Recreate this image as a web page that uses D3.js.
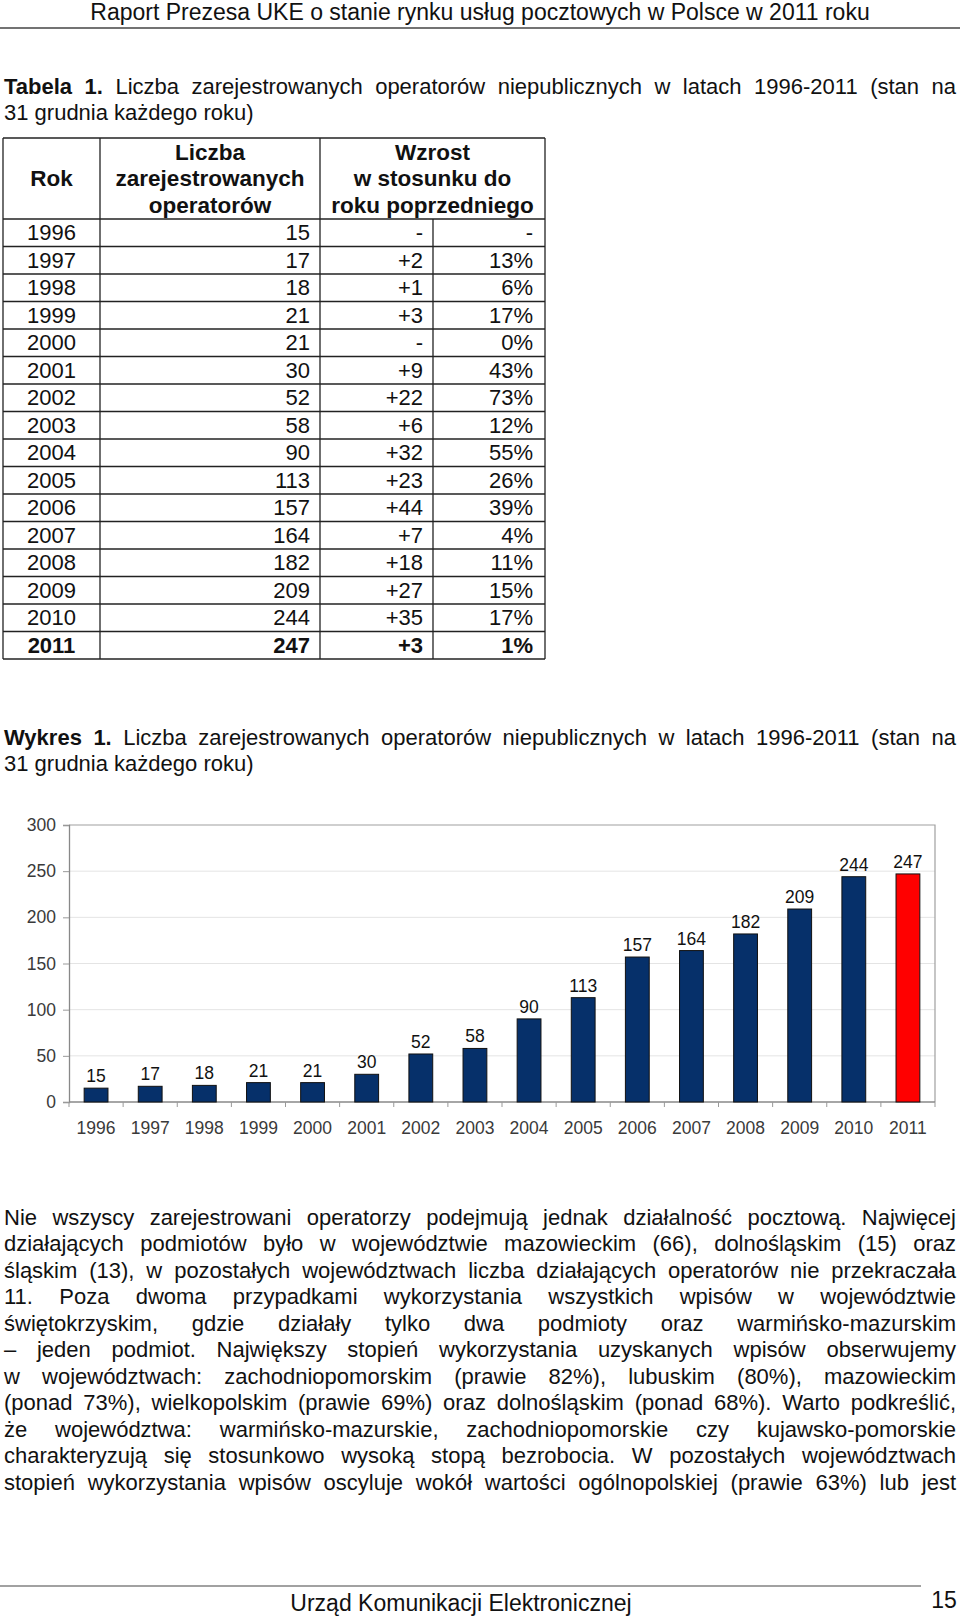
<!DOCTYPE html>
<html>
<head>
<meta charset="utf-8">
<script src="https://cdn.jsdelivr.net/npm/d3@7"></script>
<style>
  body { margin: 0; background: #fff; }
  svg text { font-family: "Liberation Sans", Arial, sans-serif; }
</style>
</head>
<body>
<div id="page"></div>
<script>
// data
const years = ["1996","1997","1998","1999","2000","2001","2002","2003","2004","2005","2006","2007","2008","2009","2010","2011"];
const operators = [15, 17, 18, 21, 21, 30, 52, 58, 90, 113, 157, 164, 182, 209, 244, 247];
const growthAbs = ["-","+2","+1","+3","-","+9","+22","+6","+32","+23","+44","+7","+18","+27","+35","+3"];
const growthPct = ["-","13%","6%","17%","0%","43%","73%","12%","55%","26%","39%","4%","11%","15%","17%","1%"];
const yTicks = [0, 50, 100, 150, 200, 250, 300];
const highlightYear = "2011";

const headerText = "Raport Prezesa UKE o stanie rynku usług pocztowych w Polsce w 2011 roku";
const footerText = "Urząd Komunikacji Elektronicznej";
const pageNo = "15";
const captionRest = "Liczba zarejestrowanych operatorów niepublicznych w latach 1996-2011 (stan na";
const captionLine2 = "31 grudnia każdego roku)";
const paragraph = [
  "Nie wszyscy zarejestrowani operatorzy podejmują jednak działalność pocztową. Najwięcej",
  "działających podmiotów było w województwie mazowieckim (66), dolnośląskim (15) oraz",
  "śląskim (13), w pozostałych województwach liczba działających operatorów nie przekraczała",
  "11. Poza dwoma przypadkami wykorzystania wszystkich wpisów w województwie",
  "świętokrzyskim, gdzie działały tylko dwa podmioty oraz warmińsko-mazurskim",
  "– jeden podmiot. Największy stopień wykorzystania uzyskanych wpisów obserwujemy",
  "w województwach: zachodniopomorskim (prawie 82%), lubuskim (80%), mazowieckim",
  "(ponad 73%), wielkopolskim (prawie 69%) oraz dolnośląskim (ponad 68%). Warto podkreślić,",
  "że województwa: warmińsko-mazurskie, zachodniopomorskie czy kujawsko-pomorskie",
  "charakteryzują się stosunkowo wysoką stopą bezrobocia. W pozostałych województwach",
  "stopień wykorzystania wpisów oscyluje wokół wartości ogólnopolskiej (prawie 63%) lub jest"
];

const W = 960, H = 1617;
const svg = d3.select("#page").append("svg")
  .attr("width", W).attr("height", H);

// stretch / squeeze a line so it fills [x0, x1] by word spacing
function justify(sel, x0, x1) {
  const natural = sel.node().getComputedTextLength();
  const spaces = (sel.text().match(/ /g) || []).length;
  if (spaces > 0) sel.attr("word-spacing", (x1 - x0 - natural) / spaces);
}

// page header / footer
svg.append("text").attr("x", 480).attr("y", 12).attr("dy", "0.35em")
  .attr("text-anchor", "middle").attr("font-size", 23).attr("fill", "#111")
  .text(headerText);
svg.append("line").attr("x1", 0).attr("x2", W).attr("y1", 28).attr("y2", 28)
  .attr("stroke", "#444").attr("stroke-width", 1.5);

svg.append("line").attr("x1", 0).attr("x2", 921).attr("y1", 1586).attr("y2", 1586)
  .attr("stroke", "#444").attr("stroke-width", 1.2);
svg.append("text").attr("x", 461).attr("y", 1603).attr("dy", "0.35em")
  .attr("text-anchor", "middle").attr("font-size", 23).attr("fill", "#111")
  .text(footerText);
svg.append("text").attr("x", 944).attr("y", 1600).attr("dy", "0.35em")
  .attr("text-anchor", "middle").attr("font-size", 23).attr("fill", "#111")
  .text(pageNo);

// captions
function caption(label, y) {
  const t = svg.append("text").attr("x", 4).attr("y", y).attr("dy", "0.35em")
    .attr("font-size", 22).attr("fill", "#111");
  t.append("tspan").attr("font-weight", "bold").text(label + " ");
  t.append("tspan").text(captionRest);
  justify(t, 4, 956);
  svg.append("text").attr("x", 4).attr("y", y + 26.5).attr("dy", "0.35em")
    .attr("font-size", 22).attr("fill", "#111").text(captionLine2);
}
caption("Tabela 1.", 86);
caption("Wykres 1.", 737);

// table
const colX = [3, 100, 320, 433, 545];
const tTop = 138, tHead = 219, rowH = 27.5;
const tBottom = tHead + rowH * years.length;
const table = svg.append("g").attr("font-size", 22).attr("fill", "#111");
const lineStyle = s => s.attr("stroke", "#222").attr("stroke-width", 1.3);

// horizontal rules
table.selectAll("line.h")
  .data(d3.range(years.length + 1).map(i => tHead + i * rowH).concat([tTop]))
  .join("line").attr("class", "h")
  .attr("x1", colX[0]).attr("x2", colX[4]).attr("y1", d => d).attr("y2", d => d)
  .call(lineStyle);
// vertical rules
[0, 1, 2, 4].forEach(i => {
  table.append("line").attr("x1", colX[i]).attr("x2", colX[i])
    .attr("y1", tTop).attr("y2", tBottom).call(lineStyle);
});
table.append("line").attr("x1", colX[3]).attr("x2", colX[3])
  .attr("y1", tHead).attr("y2", tBottom).call(lineStyle);

// header cells
const head = table.append("g").attr("font-weight", "bold").attr("text-anchor", "middle")
  .attr("font-size", 22.5);
head.append("text").attr("x", (colX[0] + colX[1]) / 2).attr("y", 178).attr("dy", "0.35em").text("Rok");
[["Liczba", "zarejestrowanych", "operatorów"], ["Wzrost", "w stosunku do", "roku poprzedniego"]]
  .forEach((lines, c) => {
    const cx = c === 0 ? (colX[1] + colX[2]) / 2 : (colX[2] + colX[4]) / 2;
    lines.forEach((s, k) => {
      head.append("text").attr("x", cx).attr("y", 152 + k * 26.5).attr("dy", "0.35em").text(s);
    });
  });

// body rows
const rows = table.selectAll("g.row")
  .data(years.map((y, i) => ({ y, v: operators[i], a: growthAbs[i], p: growthPct[i], i })))
  .join("g").attr("class", "row")
  .attr("font-weight", d => d.y === highlightYear ? "bold" : null)
  .attr("transform", d => `translate(0,${tHead + rowH * (d.i + 0.5)})`);
rows.append("text").attr("x", (colX[0] + colX[1]) / 2).attr("dy", "0.35em")
  .attr("text-anchor", "middle").text(d => d.y);
rows.append("text").attr("x", colX[2] - 10).attr("dy", "0.35em")
  .attr("text-anchor", "end").text(d => d.v);
rows.append("text").attr("x", colX[3] - 10).attr("dy", "0.35em")
  .attr("text-anchor", "end").text(d => d.a);
rows.append("text").attr("x", colX[4] - 12).attr("dy", "0.35em")
  .attr("text-anchor", "end").text(d => d.p);

// chart
const plot = { left: 69, right: 935, top: 825, bottom: 1102 };
const x = d3.scaleBand().domain(years).range([plot.left, plot.right]).paddingInner(0.56).paddingOuter(0.28);
const xb = d3.scaleBand().domain(years).range([plot.left, plot.right]);
const y = d3.scaleLinear().domain([0, 300]).range([plot.bottom, plot.top]);
const chart = svg.append("g");

// gridlines
chart.selectAll("line.grid").data(yTicks.filter(t => t > 0 && t < 300))
  .join("line").attr("class", "grid")
  .attr("x1", plot.left).attr("x2", plot.right)
  .attr("y1", d => y(d)).attr("y2", d => y(d))
  .attr("stroke", "#e4e4e4").attr("stroke-width", 1);

// plot frame (top and right)
chart.append("path")
  .attr("d", `M${plot.left},${plot.top}H${plot.right}V${plot.bottom}`)
  .attr("fill", "none").attr("stroke", "#a0a0a0").attr("stroke-width", 1.2);

// y axis
const yAxis = chart.append("g").attr("transform", `translate(${plot.left},0)`)
  .call(d3.axisLeft(y).tickValues(yTicks).tickSize(6).tickPadding(7));
yAxis.select(".domain").attr("stroke", "#888").attr("stroke-width", 1.3);
yAxis.selectAll(".tick line").attr("stroke", "#999");
yAxis.selectAll(".tick text").attr("font-size", 17.5).attr("fill", "#3a3a3a")
  .attr("font-family", "Liberation Sans, Arial, sans-serif");

// x axis: ticks at band boundaries
const xAxis = chart.append("g").attr("transform", `translate(0,${plot.bottom})`);
xAxis.append("line").attr("x1", plot.left).attr("x2", plot.right)
  .attr("stroke", "#888").attr("stroke-width", 1.3);
xAxis.selectAll("line.xt").data(years.concat(["end"]))
  .join("line").attr("class", "xt")
  .attr("x1", (d, i) => i < years.length ? xb(d) : plot.right)
  .attr("x2", (d, i) => i < years.length ? xb(d) : plot.right)
  .attr("y1", 0).attr("y2", 5).attr("stroke", "#999");
xAxis.selectAll("text").data(years).join("text")
  .attr("x", d => xb(d) + xb.bandwidth() / 2).attr("y", 26).attr("dy", "0.35em")
  .attr("text-anchor", "middle").attr("font-size", 17.5).attr("fill", "#3a3a3a")
  .text(d => d);

// bars
chart.selectAll("rect.bar").data(years.map((yr, i) => ({ yr, v: operators[i] })))
  .join("rect").attr("class", "bar")
  .attr("x", d => x(d.yr)).attr("width", x.bandwidth())
  .attr("y", d => y(d.v)).attr("height", d => plot.bottom - y(d.v))
  .attr("fill", d => d.yr === highlightYear ? "#ff0000" : "#06306a")
  .attr("stroke", "#111").attr("stroke-width", 1);

// value labels
chart.selectAll("text.val").data(years.map((yr, i) => ({ yr, v: operators[i] })))
  .join("text").attr("class", "val")
  .attr("x", d => x(d.yr) + x.bandwidth() / 2).attr("y", d => y(d.v) - 6)
  .attr("text-anchor", "middle").attr("font-size", 17.5).attr("fill", "#111")
  .text(d => d.v);

// paragraph
paragraph.forEach((line, i) => {
  const t = svg.append("text").attr("x", 4).attr("y", 1217 + i * 26.5).attr("dy", "0.35em")
    .attr("font-size", 22).attr("fill", "#111").text(line);
  justify(t, 4, 956);
});
</script>
</body>
</html>
